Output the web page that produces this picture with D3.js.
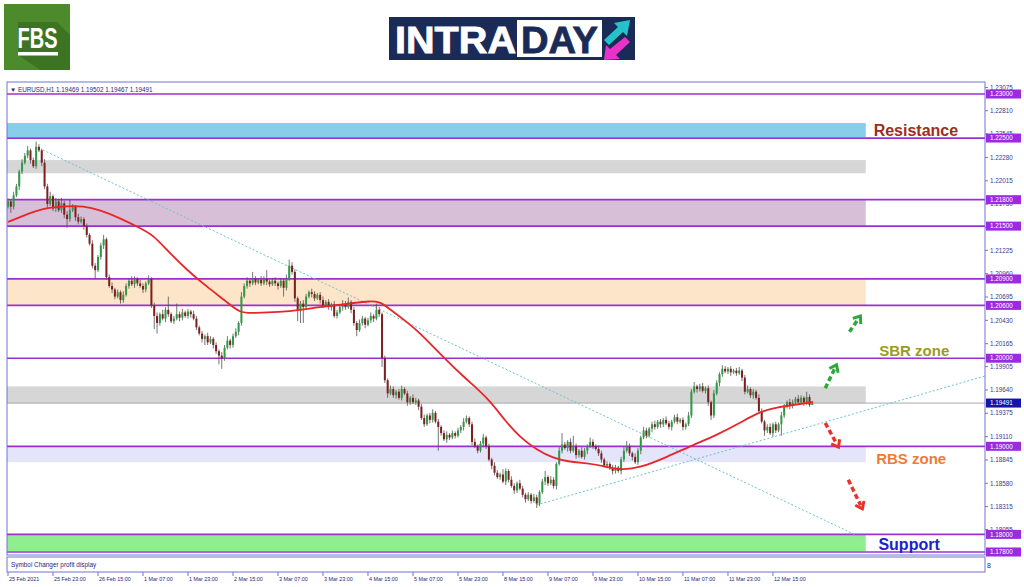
<!DOCTYPE html>
<html>
<head>
<meta charset="utf-8">
<script src="https://cdn.jsdelivr.net/npm/d3@7"></script>
<style>
  body { margin: 0; background: #fff; }
  svg { display: block; }
  text { font-family: "Liberation Sans", Arial, sans-serif; }
</style>
</head>
<body>
<div id="chart"></div>
<script>
// EURUSD H1 closes, one per bar (bar 0 = 25 Feb 2021)
const firstOpen = 1.2172;
const closes = [
  1.2178,1.2172,1.2185,1.2195,1.2212,1.2222,1.2230,1.2236,1.2225,1.2218,
  1.2240,1.2236,1.2222,1.2195,1.2175,1.2184,1.2170,1.2178,1.2168,1.2176,
  1.2163,1.2158,1.2168,1.2172,1.2160,1.2155,1.2158,1.2150,1.2140,1.2130,
  1.2105,1.2100,1.2115,1.2128,1.2135,1.2092,1.2082,1.2078,1.2070,1.2075,
  1.2066,1.2072,1.2082,1.2088,1.2084,1.2090,1.2085,1.2082,1.2078,1.2085,
  1.2090,1.2060,1.2048,1.2040,1.2050,1.2045,1.2055,1.2050,1.2042,1.2045,
  1.2050,1.2046,1.2052,1.2048,1.2053,1.2050,1.2045,1.2035,1.2028,1.2022,
  1.2025,1.2018,1.2022,1.2015,1.2008,1.2003,1.2000,1.2012,1.2020,1.2015,
  1.2025,1.2030,1.2040,1.2070,1.2082,1.2088,1.2085,1.2090,1.2086,1.2089,
  1.2085,1.2090,1.2087,1.2084,1.2088,1.2085,1.2082,1.2088,1.2080,1.2090,
  1.2105,1.2098,1.2068,1.2055,1.2062,1.2058,1.2070,1.2075,1.2073,1.2068,
  1.2072,1.2066,1.2060,1.2064,1.2058,1.2061,1.2048,1.2052,1.2058,1.2062,
  1.2058,1.2064,1.2055,1.2040,1.2032,1.2040,1.2045,1.2038,1.2043,1.2048,
  1.2045,1.2055,1.2050,1.2000,1.1975,1.1960,1.1965,1.1958,1.1962,1.1955,
  1.1965,1.1960,1.1950,1.1955,1.1950,1.1952,1.1945,1.1932,1.1925,1.1935,
  1.1930,1.1938,1.1928,1.1922,1.1915,1.1908,1.1913,1.1910,1.1915,1.1912,
  1.1918,1.1922,1.1928,1.1932,1.1925,1.1905,1.1900,1.1895,1.1903,1.1910,
  1.1900,1.1885,1.1878,1.1870,1.1865,1.1868,1.1860,1.1872,1.1862,1.1855,
  1.1850,1.1858,1.1852,1.1845,1.1840,1.1845,1.1838,1.1842,1.1835,1.1848,
  1.1860,1.1865,1.1858,1.1862,1.1855,1.1880,1.1895,1.1902,1.1898,1.1905,
  1.1895,1.1900,1.1890,1.1895,1.1888,1.1895,1.1900,1.1905,1.1900,1.1897,
  1.1892,1.1885,1.1878,1.1880,1.1875,1.1872,1.1876,1.1872,1.1885,1.1895,
  1.1900,1.1892,1.1888,1.1882,1.1895,1.1910,1.1918,1.1912,1.1920,1.1925,
  1.1922,1.1928,1.1925,1.1930,1.1926,1.1922,1.1928,1.1933,1.1928,1.1930,
  1.1922,1.1925,1.1935,1.1962,1.1968,1.1965,1.1968,1.1963,1.1966,1.1950,
  1.1935,1.1960,1.1972,1.1982,1.1988,1.1985,1.1988,1.1984,1.1986,1.1983,
  1.1986,1.1978,1.1962,1.1965,1.1958,1.1962,1.1955,1.1940,1.1928,1.1918,
  1.1922,1.1915,1.1925,1.1918,1.1925,1.1935,1.1945,1.1950,1.1946,1.1950,
  1.1954,1.1950,1.1955,1.1950,1.1956,1.1947,1.19491
];
// wick lengths in pips above / below the body
const upWick = [
  3,2,4,3,2,4,3,5,2,3, 6,3,2,4,3,5,2,4,3,6, 3,4,12,3,2,4,3,2,3,2,
  4,3,2,3,5,2,3,4,2,3, 2,4,3,2,5,3,2,4,3,2, 4,2,3,4,2,5,3,15,2,3,
  12,3,4,2,3,2,4,3,2,3, 2,4,3,2,3,2,4,3,5,2, 3,4,2,5,3,4,2,8,3,2,
  4,3,10,2,3,4,2,3,2,5, 7,4,3,2,3,4,3,2,4,3, 2,3,4,2,3,2,4,3,2,4,
  3,5,2,3,2,4,3,2,3,4, 2,7,3,2,3,2,4,3,2,3, 4,2,3,2,4,3,2,3,4,2,
  3,4,2,3,2,3,4,2,3,2, 3,2,4,3,2,3,4,2,3,4, 2,3,2,4,3,2,6,3,2,4,
  3,2,4,3,2,3,2,4,3,2, 3,7,2,4,3,2,4,13,3,2, 4,12,3,2,4,3,2,5,3,2,
  4,3,2,3,2,4,3,2,3,4, 6,3,2,4,3,2,4,3,2,3, 4,2,3,2,4,3,2,3,4,2,
  3,2,4,3,5,2,3,4,2,3, 2,4,3,2,4,3,2,3,2,3, 4,2,3,4,2,3,2,4,3,2,
  3,4,2,3,2,4,3,2,4,3, 2,4,3,2,6,3,1.1
];
const dnWick = [
  2,7,3,2,4,3,2,3,4,2, 3,2,4,3,5,2,3,4,2,3, 4,10,3,2,4,3,2,4,3,2,
  3,10,2,3,4,3,2,4,3,2, 4,3,2,3,2,4,3,2,4,3, 2,3,15,12,3,2,4,3,2,3,
  2,4,3,2,3,4,2,3,2,4, 7,3,2,4,3,10,12,3,2,4, 3,2,4,3,2,3,4,2,3,2,
  3,2,4,3,2,3,4,2,10,3, 2,3,4,13,15,18,3,2,4,3, 2,4,3,2,3,4,2,3,2,4,
  3,2,4,3,7,2,3,4,2,3, 4,2,3,10,3,5,2,3,4,2, 3,2,4,3,2,3,4,2,3,2,
  4,3,2,27,3,2,4,3,2,3, 2,3,4,2,3,4,2,3,2,4, 3,2,4,3,2,3,2,4,3,2,
  4,3,2,3,4,2,3,2,5,3, 2,4,3,2,3,4,2,3,2,4, 3,2,4,3,2,3,4,2,3,2,
  3,4,2,3,2,4,3,2,4,3, 2,3,4,2,3,4,2,3,2,4, 3,2,4,3,2,3,4,2,3,2,
  4,3,2,3,2,4,3,2,3,4, 5,3,2,4,3,2,3,4,2,3, 2,4,3,2,3,4,2,3,2,6,
  3,2,4,3,2,13,3,2,4,3, 2,3,2,4,3,2,0.3
];

// moving average
const maBars = [0,4.3,12.4,21,26.7,32.7,39.8,46.9,51.6,56.5,63.6,70.8,77.9,82.5,87.1,96.7,103.8,110.9,118,
  122.7,128.7,132.3,134.8,141.9,146.5,154.7,163.2,170.3,177.4,182,188.1,193.8,199.8,205.9,211.6,217.6,
  224.7,234.3,243.6,252.1,260.3,266.3,272,279.1,286.2];
const maPrices = [1.21547,1.21604,1.21706,1.21728,1.21728,1.21683,1.21592,1.21479,1.21399,1.21229,1.21002,
  1.20809,1.20638,1.20513,1.20513,1.20525,1.20548,1.20582,1.20604,1.20627,1.20650,1.20638,1.20582,1.20411,
  1.20287,1.20014,1.19753,1.19560,1.19265,1.19106,1.18958,1.18867,1.18822,1.18811,1.18777,1.18731,1.18754,
  1.18879,1.19015,1.19129,1.19265,1.19378,1.19435,1.19469,1.19503];

const levels = [1.23, 1.225, 1.218, 1.215, 1.209, 1.206, 1.20, 1.19, 1.18, 1.178];
const zoneHi = [1.2267, 1.2225, 1.218, 1.209, 1.1968, 1.19, 1.18];
const zoneLo = [1.2251, 1.2210, 1.215, 1.206, 1.1949, 1.1882, 1.1781];
const zoneEndBar = 305;

const priceTicks = [1.23075,1.22810,1.22545,1.22280,1.22015,1.21750,1.21485,1.21225,1.20960,1.20695,
  1.20430,1.20165,1.19905,1.19640,1.19375,1.19110,1.18845,1.18580,1.18315,1.18055];
const timeLabels = ["25 Feb 2021","25 Feb 23:00","26 Feb 15:00","1 Mar 07:00","1 Mar 23:00","2 Mar 15:00",
  "3 Mar 07:00","3 Mar 23:00","4 Mar 15:00","5 Mar 07:00","5 Mar 23:00","8 Mar 15:00","9 Mar 07:00",
  "9 Mar 23:00","10 Mar 15:00","11 Mar 07:00","11 Mar 23:00","12 Mar 15:00"];
const barsPerLabel = 16;

const trendLines = [
  [[12.4, 1.22364], [303, 1.1797]],
  [[188, 1.18334], [347.4, 1.19798]]
];
const arrowsUp = [[[290.6, 1.19660], [294.6, 1.19925]], [[299.2, 1.20300], [303.1, 1.20480]]];
const arrowsDown = [[[290.6, 1.19265], [295.3, 1.18990]], [[298.8, 1.18620], [303.8, 1.18290]]];

const lastPrice = 1.19491;
const header = "\u25BC EURUSD,H1  1.19469 1.19502 1.19467 1.19491";

// ---------------------------------------------------------------
const W = 1024, H = 587;
const pLeft = 7, pRight = 985, pTop = 82, pBottom = 555;

const svg = d3.select("#chart").append("svg")
  .attr("width", W).attr("height", H);

const x = d3.scaleLinear().domain([0, 347.4]).range([8, 985]);
const y = d3.scaleLinear().domain([1.178, 1.23]).range([552, 94]);

svg.append("defs").append("clipPath").attr("id", "plot")
  .append("rect").attr("x", pLeft).attr("y", pTop).attr("width", pRight - pLeft).attr("height", pBottom - pTop);

const plot = svg.append("g").attr("clip-path", "url(#plot)");

// zones
const zoneColors = ["#87CEEB", "#D6D6D6", "#D8BFD8", "#FDE5C9", "#D6D6D6", "#E4E4FA", "#90EE90"];
plot.selectAll(".zone").data(zoneHi).enter().append("rect")
  .attr("x", pLeft)
  .attr("y", d => y(d))
  .attr("width", x(zoneEndBar) - pLeft)
  .attr("height", (d, i) => y(zoneLo[i]) - y(d))
  .attr("fill", (d, i) => zoneColors[i]);

// level lines
plot.selectAll(".level").data(levels).enter().append("line")
  .attr("x1", pLeft).attr("x2", pRight)
  .attr("y1", d => y(d)).attr("y2", d => y(d))
  .attr("stroke", "#9B30D0").attr("stroke-width", 1.7);

// last price line
plot.append("line")
  .attr("x1", pLeft).attr("x2", pRight)
  .attr("y1", y(lastPrice)).attr("y2", y(lastPrice))
  .attr("stroke", "#A8A8A8").attr("stroke-width", 1);

// trend lines
plot.selectAll(".trend").data(trendLines).enter().append("line")
  .attr("x1", d => x(d[0][0])).attr("y1", d => y(d[0][1]))
  .attr("x2", d => x(d[1][0])).attr("y2", d => y(d[1][1]))
  .attr("stroke", "#6EC3CF").attr("stroke-width", 1)
  .attr("stroke-dasharray", "2,2");

// candles
const bars = closes.map((c, i) => {
  const o = i === 0 ? firstOpen : closes[i - 1];
  return {
    i: i, o: o, c: c,
    h: Math.max(o, c) + upWick[i] * 0.0001,
    l: Math.min(o, c) - dnWick[i] * 0.0001
  };
});

const candle = plot.selectAll(".candle").data(bars).enter().append("g");
candle.append("line")
  .attr("x1", d => x(d.i)).attr("x2", d => x(d.i))
  .attr("y1", d => y(d.h)).attr("y2", d => y(d.l))
  .attr("stroke", "#505050").attr("stroke-width", 0.8);
candle.append("rect")
  .attr("x", d => x(d.i) - 1)
  .attr("width", 2)
  .attr("y", d => y(Math.max(d.o, d.c)))
  .attr("height", d => Math.max(0.8, Math.abs(y(d.o) - y(d.c))))
  .attr("fill", d => d.c >= d.o ? "#2F9A45" : "#7E1F1F");

// moving average
plot.append("path")
  .datum(maBars)
  .attr("fill", "none")
  .attr("stroke", "#E8262A")
  .attr("stroke-width", 1.8)
  .attr("d", d3.line().x(d => x(d)).y((d, i) => y(maPrices[i])).curve(d3.curveBasis));

// dashed arrows
function drawArrow(a, color) {
  const x1 = x(a[0][0]), y1 = y(a[0][1]), x2 = x(a[1][0]), y2 = y(a[1][1]);
  const ang = Math.atan2(y2 - y1, x2 - x1);
  svg.append("line")
    .attr("x1", x1).attr("y1", y1).attr("x2", x2 - 4 * Math.cos(ang)).attr("y2", y2 - 4 * Math.sin(ang))
    .attr("stroke", color).attr("stroke-width", 3.5).attr("stroke-dasharray", "5,3");
  const hl = 8, spread = 0.65;
  const p = [
    [x2 - hl * Math.cos(ang - spread), y2 - hl * Math.sin(ang - spread)],
    [x2, y2],
    [x2 - hl * Math.cos(ang + spread), y2 - hl * Math.sin(ang + spread)]
  ];
  svg.append("path")
    .attr("d", d3.line()(p))
    .attr("fill", "none").attr("stroke", color).attr("stroke-width", 3)
    .attr("stroke-linejoin", "miter");
}
arrowsUp.forEach(a => drawArrow(a, "#2FA83A"));
arrowsDown.forEach(a => drawArrow(a, "#E8332B"));

// zone captions
const captions = [
  { text: "Resistance", bar: 307.8, price: 1.2259, color: "#A02C1E", size: 16 },
  { text: "SBR zone", bar: 309.8, price: 1.2009, color: "#9C9A22", size: 15 },
  { text: "RBS zone", bar: 308.7, price: 1.1886, color: "#F07A36", size: 15 },
  { text: "Support", bar: 309.5, price: 1.1789, color: "#1A22CC", size: 16 }
];
svg.selectAll(".caption").data(captions).enter().append("text")
  .attr("x", d => x(d.bar)).attr("y", d => y(d.price))
  .attr("dy", "0.36em")
  .attr("font-family", "Roboto, 'Liberation Sans', sans-serif")
  .attr("font-weight", "bold")
  .attr("font-size", d => d.size)
  .attr("fill", d => d.color)
  .text(d => d.text);

// frame
const frameColor = "#7272D6";
svg.append("rect").attr("x", pLeft).attr("y", pTop).attr("width", pRight - pLeft).attr("height", pBottom - pTop)
  .attr("fill", "none").attr("stroke", frameColor).attr("stroke-width", 1);
svg.append("rect").attr("x", pLeft).attr("y", 557).attr("width", pRight - pLeft).attr("height", 15)
  .attr("fill", "none").attr("stroke", frameColor).attr("stroke-width", 1);

svg.append("text").attr("x", 10).attr("y", 91.5)
  .attr("font-size", 6.3).attr("fill", "#28287A").text(header);
svg.append("text").attr("x", 11).attr("y", 567)
  .attr("font-size", 6.4).attr("fill", "#28287A").text("Symbol Changer profit display");
svg.append("text").attr("x", 987).attr("y", 568)
  .attr("font-size", 7).attr("fill", "#28287A").text("8");

// price axis
const axisG = svg.append("g");
axisG.selectAll(".tick").data(priceTicks).enter().append("line")
  .attr("x1", pRight).attr("x2", pRight + 3)
  .attr("y1", d => y(d)).attr("y2", d => y(d))
  .attr("stroke", frameColor);
axisG.selectAll(".tl").data(priceTicks).enter().append("text")
  .attr("x", pRight + 5).attr("y", d => y(d)).attr("dy", "0.35em")
  .attr("font-size", 6.3).attr("fill", "#3A3A8A")
  .text(d => d3.format(".5f")(d));

const lvl = axisG.selectAll(".lvl").data(levels).enter().append("g")
  .attr("transform", d => `translate(${pRight + 1},${y(d)})`);
lvl.append("rect").attr("x", 0).attr("y", -4.5).attr("width", 35).attr("height", 9).attr("fill", "#9B2BE0");
lvl.append("text").attr("x", 4).attr("dy", "0.35em").attr("font-size", 6.3).attr("fill", "#fff")
  .text(d => d3.format(".5f")(d));

const lp = axisG.append("g").attr("transform", `translate(${pRight + 1},${y(lastPrice)})`);
lp.append("rect").attr("x", 0).attr("y", -4.5).attr("width", 35).attr("height", 9).attr("fill", "#1414A8");
lp.append("text").attr("x", 4).attr("dy", "0.35em").attr("font-size", 6.3).attr("fill", "#fff")
  .text(d3.format(".5f")(lastPrice));

// time axis
const tg = svg.append("g");
tg.selectAll(".tt").data(timeLabels).enter().append("line")
  .attr("x1", (d, i) => x(i * barsPerLabel)).attr("x2", (d, i) => x(i * barsPerLabel))
  .attr("y1", 572).attr("y2", 576).attr("stroke", frameColor);
tg.selectAll(".tx").data(timeLabels).enter().append("text")
  .attr("x", (d, i) => x(i * barsPerLabel) + 1).attr("y", 580.5)
  .attr("font-size", 5.4).attr("fill", "#28287A")
  .text(d => d);

// logos
const fbs = svg.append("g");
fbs.append("rect").attr("x", 4).attr("y", 4).attr("width", 66).attr("height", 66).attr("fill", "#4C8A2C");
fbs.append("path").attr("d", "M18,22 L57,22 L70,35 L70,70 L40,70 L18,55 Z").attr("fill", "#3D7423");
fbs.append("text").attr("x", 37.5).attr("y", 48).attr("text-anchor", "middle")
  .attr("font-family", "'Liberation Sans Narrow', 'Liberation Sans', sans-serif")
  .attr("font-weight", "bold").attr("font-size", 30).attr("fill", "#fff")
  .attr("textLength", 40).attr("lengthAdjust", "spacingAndGlyphs").text("FBS");
fbs.append("rect").attr("x", 18).attr("y", 52).attr("width", 40).attr("height", 3.5).attr("fill", "#fff");

const intra = svg.append("g");
intra.append("rect").attr("x", 389).attr("y", 17).attr("width", 246).attr("height", 43).attr("fill", "#1B2B58");
intra.append("text").attr("x", 395).attr("y", 52.5)
  .attr("font-weight", "bold").attr("font-size", 37).attr("fill", "#fff")
  .attr("stroke", "#fff").attr("stroke-width", 0.8)
  .attr("textLength", 121).attr("lengthAdjust", "spacingAndGlyphs").text("INTRA");
intra.append("rect").attr("x", 517).attr("y", 20).attr("width", 85).attr("height", 37).attr("fill", "#fff");
intra.append("text").attr("x", 521).attr("y", 52.5)
  .attr("font-weight", "bold").attr("font-size", 37).attr("fill", "#1B2B58")
  .attr("stroke", "#1B2B58").attr("stroke-width", 0.8)
  .attr("textLength", 77).attr("lengthAdjust", "spacingAndGlyphs").text("DAY");
intra.append("path").attr("d", "M604,40 L618,27 L614,23 L630,20 L627,36 L623,32 L609,45 Z").attr("fill", "#25C3C8");
intra.append("path").attr("d", "M630,42 L616,55 L620,59 L604,60 L606,45 L610,49 L625,37 Z").attr("fill", "#E932C8");
</script>
</body>
</html>
